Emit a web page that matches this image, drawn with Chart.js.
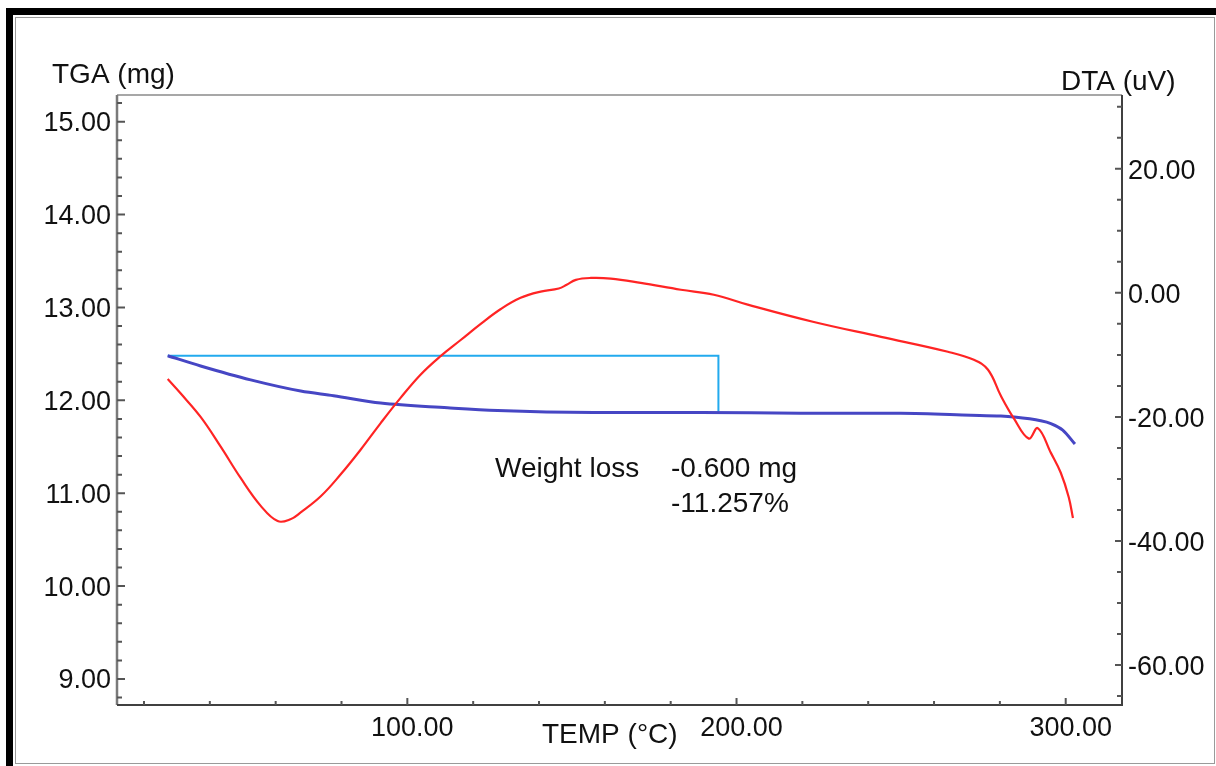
<!DOCTYPE html>
<html>
<head>
<meta charset="utf-8">
<title>TGA / DTA</title>
<script src="https://cdn.jsdelivr.net/npm/chart.js@4.4.1/dist/chart.umd.min.js"></script>
<style>
    html, body { margin: 0; padding: 0; background: #fff; }
    body { width: 1216px; height: 766px; position: relative; overflow: hidden; }
    .outer { position: absolute; left: 6px; top: 8px; right: 0; bottom: 0;
             border-top: 7px solid #000; border-left: 7px solid #000; }
    .inner { position: absolute; left: 15px; top: 17px; width: 1198px; height: 745px;
             border: 1px solid #9a9a9a; }
    #chart { position: absolute; left: 0; top: 0; }
</style>
</head>
<body>
<div class="outer"></div>
<div class="inner"></div>
<canvas id="chart" width="1216" height="766"></canvas>
<script>
// TGA (blue, left axis, mg)
const tgaTemp = [27.2, 37.2, 52.4, 67.6, 77.6, 91.9, 112.2, 127.4, 156.6, 189.1, 219.5, 249.9, 271.2, 280.3, 284.2, 292.4, 295.5, 299.1, 302.8];
const tgaMass = [12.48, 12.37, 12.22, 12.10, 12.05, 11.97, 11.92, 11.89, 11.87, 11.87, 11.86, 11.86, 11.84, 11.83, 11.82, 11.78, 11.75, 11.68, 11.53];

// DTA (red, right axis, uV)
const dtaTemp = [27.2, 31.1, 37.2, 43.3, 49.3, 55.4, 60.6, 64.5, 67.6, 73.7, 79.7, 85.8, 91.9, 98.0, 104.0, 110.1, 116.2, 122.3, 128.4, 134.4, 140.5, 146.0, 148.4, 151.2, 155.7, 161.8, 170.9, 183.1, 193.1, 203.4, 223.5, 243.9, 264.2, 272.1, 276.4, 280.3, 284.2, 288.8, 291.5, 295.5, 298.5, 300.9, 302.2];
const dtaValue = [-13.9, -16.2, -20.0, -24.8, -29.8, -34.3, -36.8, -36.5, -35.4, -32.8, -29.3, -25.3, -21.0, -16.9, -13.2, -10.2, -7.6, -5.0, -2.6, -0.8, 0.2, 0.7, 1.3, 2.1, 2.4, 2.3, 1.6, 0.5, -0.3, -1.9, -4.7, -7.1, -9.5, -10.8, -12.4, -16.6, -20.2, -23.5, -21.8, -25.8, -29.0, -32.9, -36.3];

// weight loss bracket (temp, mg)
const stepTemp = [27.2, 194.5, 194.5];
const stepMass = [12.48, 12.48, 11.88];

// axis ticks
const tempTicks = [100, 200, 300];
const tgaTicks = [9, 10, 11, 12, 13, 14, 15];
const dtaTicks = [-60, -40, -20, 0, 20];

const tickFont = { family: 'Liberation Sans, Arial, sans-serif', size: 27 };
const textFont = '28px "Liberation Sans", Arial, sans-serif';

function pts(xs, ys) {
    return xs.map((x, i) => ({ x: x, y: ys[i] }));
}

function setTicks(values) {
    return function(scale) {
        scale.ticks = values.map(v => ({ value: v }));
    };
}

// frame, inward tick marks and the free texts
const decorPlugin = {
    id: 'decor',
    afterDraw(chart) {
        const ctx = chart.ctx;
        const a = chart.chartArea;
        const sx = chart.scales.x, sy = chart.scales.y, sy2 = chart.scales.y2;
        ctx.save();

        ctx.strokeStyle = '#8a8a8a';
        ctx.lineWidth = 1.5;
        ctx.beginPath();
        ctx.moveTo(a.left, a.top); ctx.lineTo(a.right, a.top);
        ctx.stroke();
        ctx.strokeStyle = '#7a7a7a';
        ctx.lineWidth = 2.5;
        ctx.beginPath();
        ctx.moveTo(a.left, a.top); ctx.lineTo(a.left, a.bottom);
        ctx.stroke();
        ctx.strokeStyle = '#404040';
        ctx.lineWidth = 2;
        ctx.beginPath();
        ctx.moveTo(a.left, a.bottom); ctx.lineTo(a.right, a.bottom); ctx.lineTo(a.right, a.top);
        ctx.stroke();

        ctx.strokeStyle = '#555';
        ctx.lineWidth = 2;
        ctx.beginPath();
        // x ticks every 20, major every 100
        for (let t = 20; t <= 320; t += 20) {
            const px = sx.getPixelForValue(t);
            if (px < a.left || px > a.right) continue;
            const len = t % 100 === 0 ? 7 : 4;
            ctx.moveTo(px, a.bottom); ctx.lineTo(px, a.bottom - len);
        }
        // left ticks every 0.2
        for (let k = 44; k <= 76; k++) {
            const v = k / 5;
            const py = sy.getPixelForValue(v);
            if (py < a.top || py > a.bottom) continue;
            const len = k % 5 === 0 ? 8 : 5;
            ctx.moveTo(a.left, py); ctx.lineTo(a.left + len, py);
        }
        // right ticks every 5
        for (let v = -65; v <= 30; v += 5) {
            const py = sy2.getPixelForValue(v);
            if (py < a.top || py > a.bottom) continue;
            const len = v % 20 === 0 ? 7 : 5;
            ctx.moveTo(a.right, py); ctx.lineTo(a.right - len, py);
        }
        ctx.stroke();

        ctx.fillStyle = '#111';
        ctx.font = textFont;
        ctx.textBaseline = 'alphabetic';
        ctx.textAlign = 'left';
        ctx.fillText('TGA (mg)', 52, 83);
        ctx.fillText('DTA (uV)', 1061, 90);
        ctx.fillText('TEMP (°C)', 542, 743);
        ctx.fillText('Weight loss', 495, 477);
        ctx.fillText('-0.600 mg', 671, 477);
        ctx.fillText('-11.257%', 671, 512);
        ctx.restore();
    }
};

new Chart(document.getElementById('chart'), {
    type: 'line',
    data: {
        datasets: [{
            label: 'DTA',
            data: pts(dtaTemp, dtaValue),
            yAxisID: 'y2',
            borderColor: '#ff2424',
            borderWidth: 2.2,
            pointRadius: 0,
            tension: 0.4,
            fill: false
        }, {
            label: 'TGA',
            data: pts(tgaTemp, tgaMass),
            yAxisID: 'y',
            borderColor: '#4646c4',
            borderWidth: 3,
            pointRadius: 0,
            cubicInterpolationMode: 'monotone',
            fill: false
        }, {
            label: 'Weight loss',
            data: pts(stepTemp, stepMass),
            yAxisID: 'y',
            borderColor: '#22aaee',
            borderWidth: 2,
            pointRadius: 0,
            tension: 0,
            fill: false
        }]
    },
    options: {
        responsive: false,
        animation: false,
        events: [],
        layout: { padding: { top: 95, left: 0, right: 0, bottom: 0 } },
        plugins: {
            legend: { display: false },
            tooltip: { enabled: false }
        },
        scales: {
            x: {
                type: 'linear',
                min: 11.8,
                max: 317.1,
                afterBuildTicks: setTicks(tempTicks),
                afterFit(scale) { scale.height = 61; },
                grid: { display: false, drawTicks: false },
                border: { display: false },
                ticks: {
                    color: '#111',
                    font: tickFont,
                    padding: 7,
                    labelOffset: 5,
                    maxRotation: 0,
                    autoSkip: false,
                    callback: v => v.toFixed(2)
                }
            },
            y: {
                position: 'left',
                min: 8.72,
                max: 15.287,
                afterBuildTicks: setTicks(tgaTicks),
                afterFit(scale) { scale.width = 117; },
                grid: { display: false, drawTicks: false },
                border: { display: false },
                ticks: {
                    color: '#111',
                    font: tickFont,
                    padding: 6,
                    labelOffset: 2,
                    autoSkip: false,
                    callback: v => v.toFixed(2)
                }
            },
            y2: {
                position: 'right',
                min: -66.45,
                max: 31.9,
                afterBuildTicks: setTicks(dtaTicks),
                afterFit(scale) { scale.width = 94; },
                grid: { display: false, drawTicks: false },
                border: { display: false },
                ticks: {
                    color: '#111',
                    font: tickFont,
                    padding: 6,
                    labelOffset: 3,
                    autoSkip: false,
                    callback: v => v.toFixed(2)
                }
            }
        }
    },
    plugins: [decorPlugin]
});
</script>
</body>
</html>
